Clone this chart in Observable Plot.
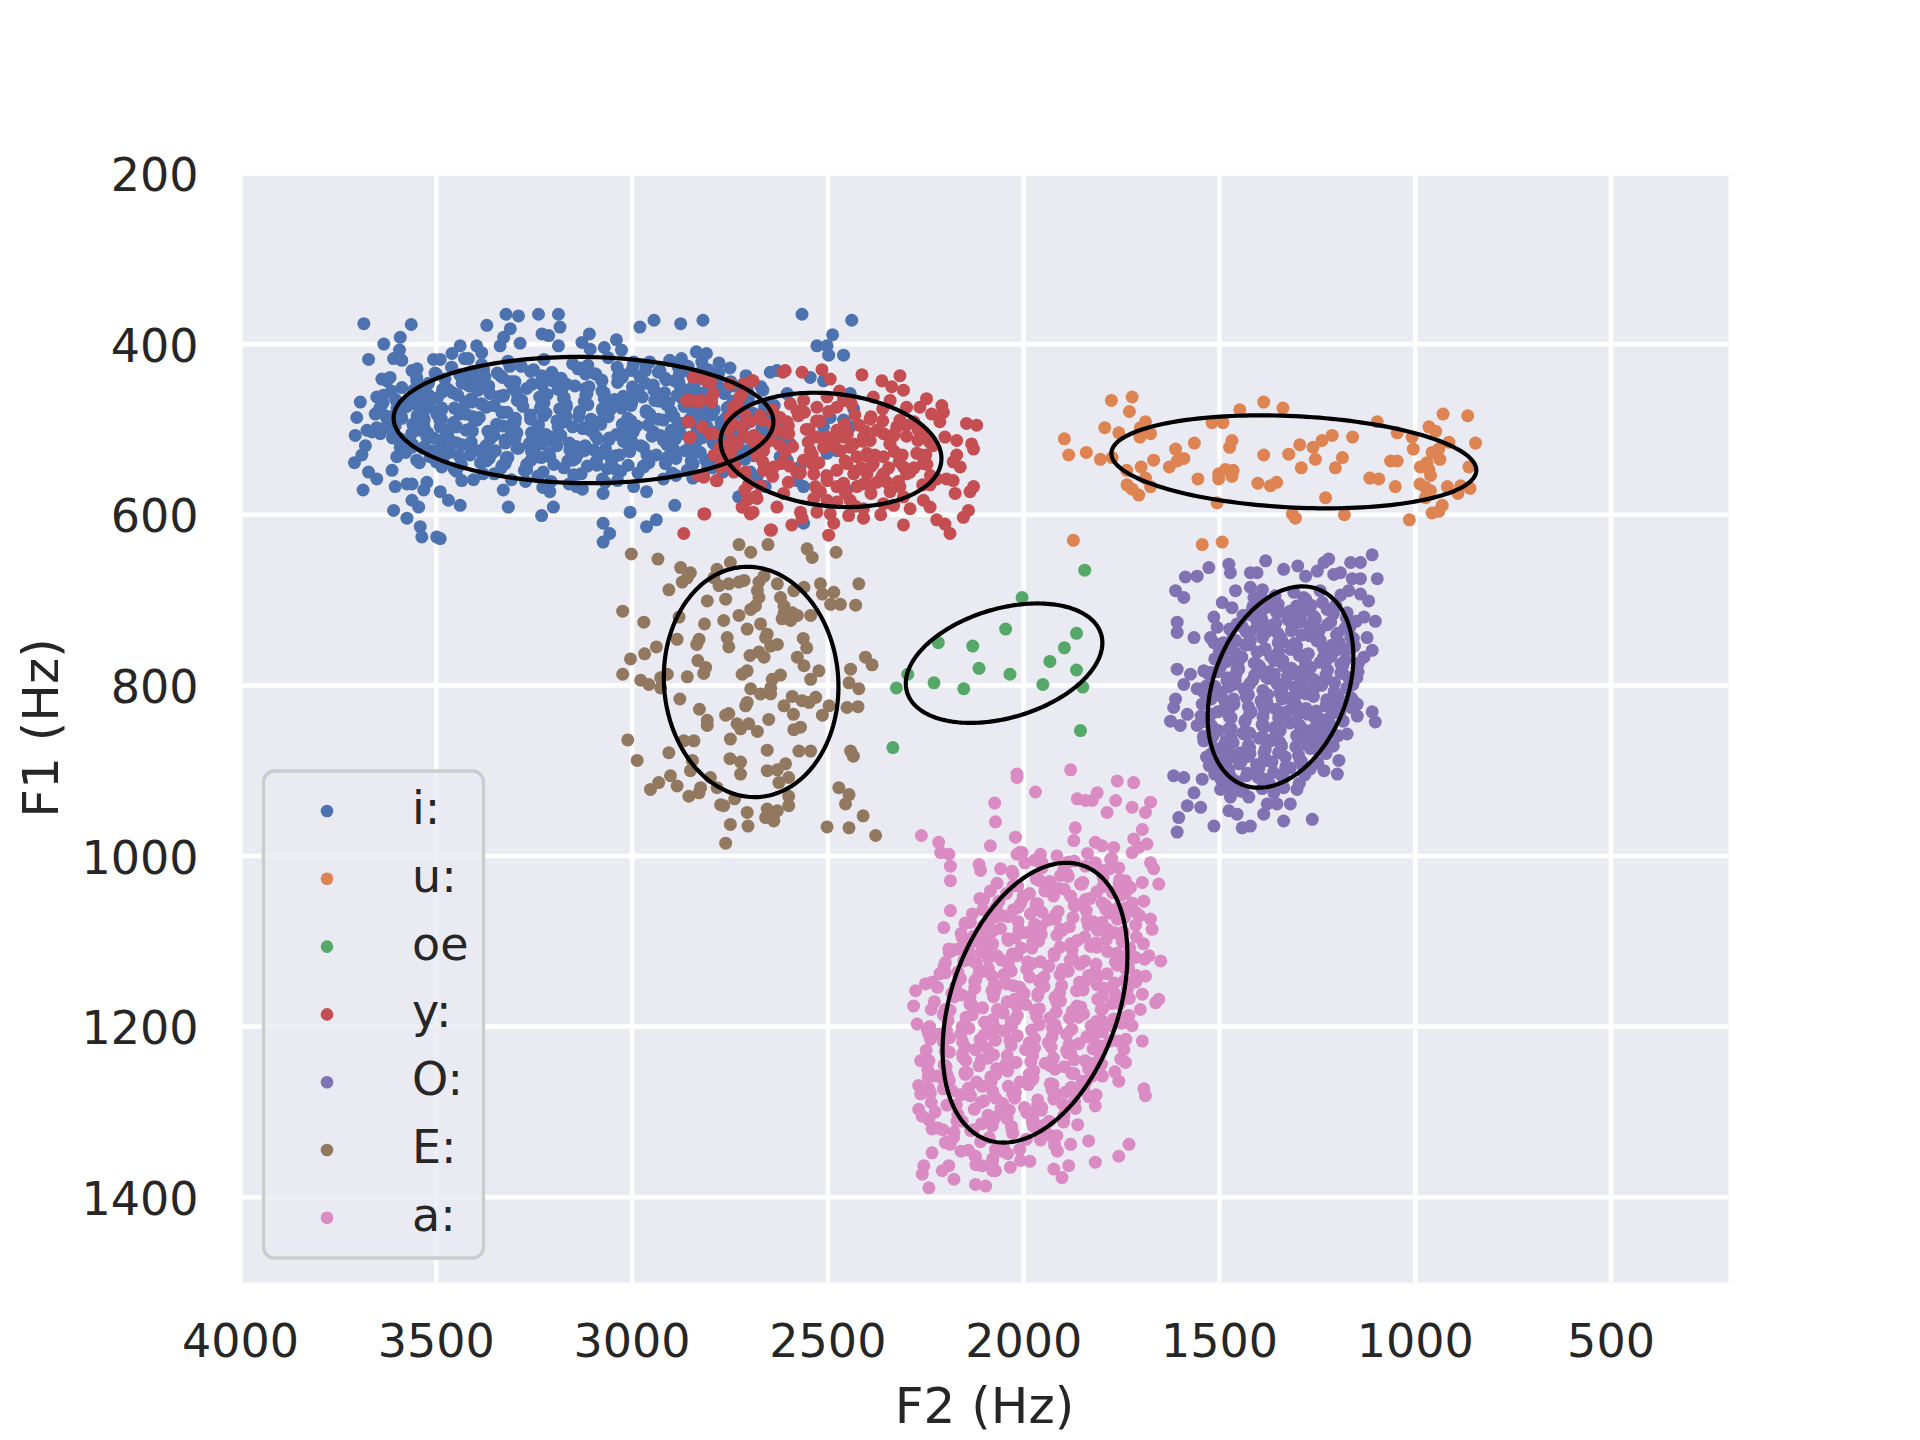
<!DOCTYPE html>
<html><head><meta charset="utf-8">
<script src="https://cdn.jsdelivr.net/npm/d3@7"></script>
<script src="https://cdn.jsdelivr.net/npm/@observablehq/plot@0.6"></script>
<style>body{margin:0;background:#fff}#chart{width:1920px;height:1440px}</style>
</head><body><div id="chart"></div>
<script>
const vowels = ["i:","u:","oe","y:","O:","E:","a:"];
const colors = ["#4c72b0","#dd8452","#55a868","#c44e52","#8172b3","#937860","#da8bc3"];
const xTicks = [4000,3500,3000,2500,2000,1500,1000,500];
const yTicks = [200,400,600,800,1000,1200,1400];

// [F2, F1] pairs
const pts_i = [
[3685,376],[3564,377],[3592,392],[3634,400],[3673,418],[3371,378],[3322,365],[3290,367],[3239,365],[3188,365],[3184,380],[3230,388],[3213,390],[3311,382],[3328,392],[3337,402],[3286,399],[3188,402],[3109,388],[3128,398],[3107,406],[3040,395],[3071,404],[3027,407],[2980,380],[2944,372],[2876,376],[2819,372],[2836,409],[2810,411],[2778,422],[2874,417],[2997,425],[2955,421],[2929,431],[3439,402],[3397,402],[3384,410],[3418,417],[3460,411],[3507,418],[3490,418],[3609,417],[3594,407],[3588,419],[3562,431],[3549,429],
[2566,365],[2439,372],[2488,389],[2528,402],[2502,402],[2498,413],[2460,413],
[3694,468],[3703,486],[3656,482],[3707,507],[3677,501],[3681,519],[3690,530],[3709,539],[3673,550],[3652,558],[3687,571],[3613,548],[3605,567],[3609,595],[3575,604],[3541,614],[3537,626],[3499,626],[3490,628],[3545,591],[3562,583],[3575,564],[3562,564],[3532,571],[3524,562],[3490,573],[3469,583],[3439,589],[3435,560],[3329,571],[3316,591],[3231,601],[3201,591],[3210,573],[3142,567],[3074,575],[3074,610],[3057,622],[3074,632],[3005,597],[2963,614],[2938,606],[2963,573],[2891,589],[2844,540],[2793,534],
[3639,441],[3626,443],[3618,439],[3652,462],[3635,460],[3643,474],[3626,487],[3609,484],[3664,503],[3643,505],[3626,497],[3605,509],[3592,521],[3601,532],[3562,521],[3550,439],[3558,454],[3533,466],[3516,474],[3499,482],[3533,486],[3541,501],[3524,509],[3507,525],[3490,536],[3516,532],[3550,536],[3490,497],[3464,513],[3490,513],
[2647,433],[2630,431],[2604,458],[2545,439],[2511,443],[2443,458],[2434,476],[2443,497],[2460,489],[2477,525],[2502,528],[2622,532],[2604,536],[2571,544],[2562,567],[2579,560],[2698,550],[2681,556],[2660,567],[2728,579],[2622,513],[2596,517],[2452,571],[2562,610],[2494,486],[2511,497],
[3428,417],[3384,424],[3317,420],[3283,426],[3225,418],[3152,423],[3113,425],[3061,416],[2996,421],[2964,424],[2904,419],[2857,426],[2822,421],
[3500,435],[3461,427],[3409,432],[3344,434],[3312,426],[3252,430],[3205,433],[3134,428],[3093,435],[3038,427],[3001,431],[2933,433],[2883,426],[2821,431],[2779,434],[2750,428],
[3550,443],[3503,434],[3432,439],[3391,442],[3336,437],[3299,444],[3231,437],[3181,440],[3119,435],[3077,443],[3024,436],[2980,438],[2913,442],[2879,435],[2821,440],[2748,444],[2709,437],
[3588,451],[3520,446],[3470,453],[3408,446],[3366,449],[3313,444],[3269,452],[3202,443],[3168,447],[3110,450],[3037,445],[2998,451],[2946,448],[2881,444],[2849,452],[2789,446],[2742,449],[2671,450],
[3615,455],[3557,458],[3484,453],[3445,460],[3393,454],[3328,460],[3296,456],[3236,462],[3189,453],[3118,460],[3077,455],[3022,461],[2985,454],[2917,457],[2867,459],[2805,452],[2763,457],[2710,460],[2666,454],
[3636,469],[3604,465],[3544,471],[3497,463],[3426,468],[3385,470],[3330,461],[3293,466],[3225,469],[3175,464],[3113,471],[3071,464],[3018,467],[2974,462],[2907,469],[2873,463],[2815,470],[2742,467],[2703,464],[2651,470],
[3646,477],[3591,479],[3554,470],[3486,475],[3436,478],[3374,473],[3332,480],[3279,473],[3235,476],[3168,471],[3134,479],[3076,476],[3003,472],[2964,478],[2912,471],[2847,477],[2815,480],[2755,474],[2708,479],[2637,472],
[3630,484],[3588,487],[3535,482],[3491,489],[3424,482],[3390,486],[3332,480],[3259,488],[3220,481],[3168,485],[3103,489],[3071,483],[3011,487],[2964,480],[2893,485],[2852,488],[2797,483],[2760,486],[2692,481],[2642,487],
[3652,498],[3618,491],[3560,494],[3487,488],[3448,497],[3396,489],[3331,496],[3299,492],[3239,495],[3192,490],[3121,498],[3080,491],[3025,494],[2988,496],[2920,489],[2870,493],[2808,497],[2766,490],[2713,495],[2669,492],[2625,498],
[3628,498],[3563,505],[3531,498],[3471,505],[3424,501],[3353,507],[3312,499],[3257,504],[3220,506],[3152,497],[3102,502],[3040,506],[2998,500],[2945,503],[2901,505],[2834,499],[2800,503],[2742,507],[2669,500],[2630,505],
[3612,510],[3571,516],[3516,508],[3479,513],[3411,515],[3361,507],[3299,511],[3257,514],[3204,509],[3160,516],[3093,508],[3059,512],[3001,514],[2928,507],[2889,511],[2837,515],[2772,509],[2740,513],[2680,516],[2633,508],
[3592,515],[3530,520],[3488,523],[3435,518],[3391,525],[3324,516],[3290,522],[3232,517],[3159,524],[3120,519],[3068,523],[3003,515],[2971,521],[2911,518],[2864,525],[2793,516],[2752,520],[2697,523],[2660,517],
[3578,527],[3505,534],[3466,527],[3414,530],[3349,525],[3317,533],[3257,526],[3210,532],[3139,529],[3098,524],[3043,531],[3006,526],[2938,530],[2888,534],[2826,527],[2784,532],[2731,525],[2687,531],
[3543,539],[3483,534],[3436,541],[3365,534],[3324,540],[3269,541],[3232,533],[3164,537],[3114,543],[3052,536],[3010,542],[2957,535],[2913,538],[2846,541],[2812,536],[2754,540],[2712,535],
[3486,544],[3449,549],[3381,552],[3331,542],[3269,547],[3227,550],[3174,545],[3130,552],[3063,546],[3029,549],[2971,543],[2898,551],[2859,548],[2807,544],[2768,550],
[3405,559],[3352,552],[3308,559],[3241,555],[3207,561],[3149,553],[3076,558],[3037,560],[2985,551],[2920,558],[2888,554],[2845,557],
[3272,561],[3228,568],[3161,564],[3127,570],[3069,562],[2996,567]
];
const pts_i_inner = [
[3440,436],[3379,430],[3331,439],[3259,432],[3204,437],[3138,429],[3094,435],[3036,438],[2966,431],[2915,440],[2852,433],[2806,430],
[3478,441],[3434,446],[3376,438],[3306,444],[3255,447],[3192,440],[3146,449],[3078,442],[3025,439],[2966,446],[2891,443],[2842,448],[2781,440],
[3530,453],[3484,456],[3416,449],[3363,458],[3304,451],[3229,448],[3180,455],[3119,452],[3071,457],[2999,450],[2944,454],[2878,449],[2834,456],[2776,451],[2706,454],
[3568,467],[3519,460],[3458,457],[3410,464],[3338,461],[3283,466],[3217,459],[3173,463],[3115,458],[3045,465],[2994,462],[2931,467],[2885,460],[2817,463],[2764,458],[2705,466],
[3575,473],[3520,470],[3454,475],[3410,468],[3352,472],[3282,466],[3231,471],[3168,474],[3122,467],[3054,476],[3001,469],[2942,466],[2867,473],[2818,472],[2757,475],[2709,468],[2661,471],
[3600,475],[3549,484],[3486,477],[3440,482],[3372,474],[3319,480],[3260,483],[3185,476],[3136,485],[3075,478],[3027,475],[2955,482],[2900,479],[2834,484],[2790,477],[2732,481],[2662,476],
[3590,483],[3531,489],[3456,492],[3407,485],[3346,494],[3298,487],[3226,484],[3171,491],[3105,488],[3061,485],[3003,490],[2933,488],[2882,493],[2819,486],[2773,491],[2705,484],[2652,489],
[3605,496],[3533,493],[3478,500],[3412,499],[3368,502],[3310,495],[3240,500],[3189,497],[3126,499],[3080,494],[3012,502],[2959,495],[2900,501],[2825,498],[2776,500],[2715,494],[2667,499],
[3592,511],[3522,504],[3471,508],[3408,502],[3362,511],[3294,504],[3241,509],[3182,507],[3107,501],[3058,510],[2997,503],[2949,508],[2877,505],[2822,510],[2756,504],[2712,509],[2654,502],
[3560,518],[3507,510],[3448,516],[3373,519],[3324,512],[3263,517],[3215,513],[3143,520],[3088,511],[3022,514],[2978,519],[2920,513],[2850,516],[2799,510],[2736,517],[2690,515],
[3535,522],[3487,526],[3415,520],[3360,529],[3294,522],[3250,527],[3192,519],[3122,525],[3071,528],[3008,521],[2962,530],[2894,523],[2841,520],[2782,527],[2720,524],
[3500,538],[3442,531],[3372,537],[3321,533],[3258,536],[3212,528],[3144,534],[3091,537],[3032,530],[2957,539],[2908,532],[2847,529],[2799,536],[2742,533],
[3455,546],[3387,539],[3334,545],[3275,548],[3200,541],[3151,536],[3090,542],[3042,547],[2970,544],[2915,540],[2849,537],[2795,545]
];
const pts_u = [
[1776,466],[1723,462],[1730,479],[1689,491],[1702,498],[1793,498],[1757,504],[1676,505],[1703,509],[1896,511],[1885,530],[1840,527],[1804,535],[1774,533],[1737,548],[1700,544],[1668,536],[1689,557],[1676,567],[1736,565],[1723,570],[1706,577],[1612,523],[1564,516],[1591,534],[1608,537],[1628,544],[1555,558],[1519,492],[1491,492],[1448,477],[1387,468],[1338,475],[1468,513],[1474,521],[1485,547],[1465,548],[1502,552],[1468,555],[1502,558],[1387,530],[1402,563],[1370,566],[1354,562],[1506,586],[1323,529],[1295,518],[1261,521],[1238,513],[1212,507],[1255,535],[1291,545],[1186,533],[1204,545],[1160,509],[1229,580],[1314,599],[1306,604],[1181,600],[1097,491],[1046,504],[1063,537],[1046,537],[1116,557],[1093,558],[1051,567],[1008,509],[1005,523],[965,497],[948,502],[929,482],[866,484],[846,516],[914,515],[940,523],[957,527],[987,544],[970,539],[965,547],[961,554],[988,564],[974,568],[961,572],[974,580],[918,567],[884,566],[860,569],[891,575],[863,544],[931,589],[957,598],[940,596],[1015,606],[937,535],
[1873,630],[1544,635],[1493,632]
];
const pts_oe = [
[1844,665],[2004,697],[2046,734],[2130,754],[2218,750],[1865,739],[1896,756],[1933,772],[2114,780],[2035,787],[1865,782],[2296,787],[2325,803],[2229,797],[2153,804],[1951,799],[1849,802],[1855,853],[2334,873]
];
const pts_y = [
[2609,431],[2566,433],[2515,430],[2494,441],[2413,436],[2362,443],[2316,437],[2337,450],[2307,454],[2384,462],[2341,466],[2265,474],[2248,464],[2209,472],[2205,480],[2235,482],[2214,491],[2146,493],[2120,495],[2299,474],[2316,489],[2324,497],[2375,501],[2299,508],[2256,509],[2201,509],[2171,513],[2133,517],[2128,523],[2171,530],[2180,538],[2162,544],[2197,558],[2180,560],[2222,558],[2239,565],[2273,528],[2256,540],[2307,544],[2299,552],[2358,552],[2375,562],[2349,562],[2341,573],[2316,567],[2307,579],[2332,589],[2358,587],[2409,564],[2426,567],[2400,552],[2384,540],[2358,532],[2341,517],[2358,505],[2392,513],[2400,528],[2426,532],[2443,521],[2460,509],[2477,501],[2502,509],[2528,509],[2511,521],[2545,525],[2562,536],[2536,552],[2502,560],[2477,548],[2451,540],[2434,552],[2477,567],[2519,573],[2536,581],[2502,583],[2477,585],[2443,583],[2409,593],[2447,601],[2409,604],[2494,599],[2485,610],[2498,624],[2528,597],[2570,597],[2566,604],[2592,612],[2613,575],[2630,591],[2647,618],[2698,599],[2719,591],[2685,579],[2702,564],[2664,548],[2638,544],[2664,525],[2647,513],[2630,501],[2604,491],[2579,478],[2562,466],[2528,474],[2502,462],[2477,474],[2460,466],[2596,470],[2622,486],[2673,484],[2668,489],[2698,491],[2719,497],[2715,507],[2694,513],[2673,513],[2745,513],[2732,517],[2766,521],[2791,530],[2800,505],[2851,509],[2855,491],[2821,497],[2851,466],[2825,466],[2796,462],[2800,445],[2817,441],[2749,447],[2694,443],[2719,458],[2732,470],[2749,540],[2774,544],[2817,556],[2783,560],[2740,550],[2706,583],[2681,581],[2817,599],[2868,622],[2290,593],[2307,612],[2222,606],[2201,611],[2188,622],[2154,603],[2141,595],[2137,573],[2128,567],[2175,575],[2239,591],[2256,583],[2434,517],[2409,509],
[2844,439],[2810,443],[2861,466],[2831,468],[2797,468],[2793,458],[2857,491],[2854,510],[2831,554],[2785,560],[2814,599],[2717,447],[2691,443],[2725,462],[2742,474],[2751,486],[2793,505],[2776,521],[2768,532],[2742,548],[2712,571],[2683,579],[2691,597],[2717,591],[2644,618],[2615,433],
[2590,520],[2555,500],[2520,490],[2485,515],[2450,505],[2420,495],[2390,485],[2360,490],[2330,505],[2300,495],[2270,500],[2240,515],[2380,530],[2345,545],[2310,530],[2280,545],[2250,530],[2620,540],[2580,550],[2540,540],[2600,505],[2640,495],[2470,455],[2440,470],[2560,480],[2415,545],[2455,575],[2390,575],[2430,590],[2365,600]
];
const pts_y_inner = [
[2712,482],[2641,477],[2575,484],[2498,479],[2431,483],[2360,476],
[2740,494],[2668,489],[2601,496],[2529,490],[2458,494],[2392,488],[2318,495],[2280,491],
[2755,501],[2689,507],[2612,503],[2548,500],[2473,506],[2405,502],[2333,508],[2265,503],
[2760,519],[2690,513],[2624,518],[2550,515],[2483,520],[2411,514],[2342,517],[2270,513],[2232,519],
[2748,526],[2681,531],[2609,527],[2540,530],[2468,525],[2402,531],[2330,526],[2262,530],
[2738,542],[2666,538],[2598,543],[2523,539],[2456,537],[2389,543],[2318,538],[2247,541],
[2710,550],[2641,555],[2570,551],[2503,554],[2430,549],[2362,555],[2290,550],[2238,554],
[2672,566],[2601,562],[2532,567],[2460,563],[2391,566],[2320,561],[2258,565]
];
const pts_O = [
[1612,689],[1591,697],[1587,673],[1557,672],[1527,662],[1476,658],[1472,668],[1421,668],[1404,668],[1382,654],[1336,664],[1300,660],[1280,672],[1250,666],[1233,656],[1221,652],[1208,670],[1191,668],[1165,656],[1140,656],[1110,647],[1161,675],[1140,675],[1097,675],[1170,689],[1140,693],[1119,701],[1131,720],[1102,725],[1123,744],[1110,759],[1131,767],[1493,703],[1459,689],[1421,685],[1412,697],[1382,709],[1468,709],[1514,720],[1506,732],[1608,726],[1608,738],[1565,744],[1523,744],[1514,750],[1459,748],[1421,748],[1608,781],[1574,787],[1540,783],[1591,799],[1557,804],[1480,791],[1612,816],[1617,826],[1582,834],[1625,842],[1600,847],[1557,847],[1540,865],[1523,881],[1480,885],[1446,879],[1617,906],[1591,908],[1544,910],[1565,926],[1582,941],[1548,943],[1604,955],[1608,972],[1514,965],[1497,922],[1472,931],[1446,924],[1425,931],[1476,947],[1455,951],[1442,967],[1421,965],[1387,951],[1378,939],[1353,939],[1336,959],[1319,939],[1302,922],[1263,957],[1336,920],[1268,898],[1233,900],[1195,888],[1199,904],[1221,873],[1174,857],[1148,836],[1110,831],[1102,843],[1165,814],[1148,822],
[1390,688],[1358,695],[1310,691],[1285,697],[1243,689],[1190,694],
[1415,708],[1387,700],[1350,705],[1303,707],[1280,699],[1237,703],[1203,706],
[1440,718],[1406,709],[1355,714],[1325,717],[1285,712],[1259,719],[1210,712],[1174,715],
[1455,728],[1406,723],[1370,730],[1325,723],[1294,726],[1256,721],[1224,729],[1176,721],[1151,725],
[1474,734],[1432,737],[1379,732],[1351,739],[1314,733],[1267,739],[1244,735],[1201,741],[1167,732],
[1490,750],[1467,746],[1424,752],[1390,744],[1339,749],[1309,751],[1269,742],[1243,747],[1194,750],[1158,745],
[1500,760],[1460,762],[1434,753],[1385,758],[1349,761],[1304,756],[1273,763],[1235,756],[1203,759],[1155,754],
[1512,769],[1481,772],[1443,767],[1411,774],[1363,767],[1338,771],[1296,765],[1243,773],[1215,766],[1178,770],[1145,774],
[1522,785],[1497,778],[1455,781],[1402,776],[1374,784],[1337,777],[1290,783],[1267,779],[1224,782],[1190,775],[1146,784],
[1528,787],[1481,794],[1458,787],[1415,794],[1381,790],[1330,796],[1300,788],[1260,793],[1234,795],[1185,786],[1149,791],
[1534,801],[1504,807],[1464,799],[1438,804],[1389,806],[1353,798],[1308,802],[1277,805],[1239,800],[1207,807],[1159,799],
[1540,808],[1495,813],[1464,816],[1426,811],[1394,818],[1346,809],[1321,815],[1279,810],[1226,817],[1198,812],[1161,816],
[1544,822],[1491,829],[1463,822],[1426,825],[1379,820],[1356,828],[1313,821],[1279,827],[1228,824],[1198,819],[1164,826],
[1547,836],[1504,831],[1470,838],[1419,831],[1389,837],[1349,838],[1323,830],[1274,834],[1238,840],[1193,833],
[1545,843],[1519,848],[1470,851],[1434,841],[1389,846],[1358,849],[1320,844],[1288,851],[1240,845],[1215,848],[1184,842],
[1541,860],[1503,853],[1471,860],[1423,856],[1398,862],[1356,854],[1303,859],[1275,861],[1238,852],[1197,859],
[1538,864],[1490,871],[1465,867],[1423,873],[1370,865],[1342,870],[1305,872],[1258,863],[1235,868],[1209,871],
[1533,884],[1496,876],[1449,881],[1426,883],[1383,875],[1349,879],[1298,882],[1268,874],[1228,880],
[1526,894],[1475,885],[1445,890],[1405,893],[1379,888],[1330,895],[1294,888],[1249,891],
[1512,904],[1476,899],[1431,906],[1400,898],[1362,902],[1330,897],[1282,905],
[1496,910],[1454,913],[1401,908],[1373,915],[1336,909],[1296,915],
[1474,919],[1440,924],[1391,921],[1361,926]
];
const pts_O_inner = [
[1400,710],[1356,704],[1320,713],[1266,706],[1225,711],
[1425,717],[1392,722],[1345,714],[1293,720],[1255,723],[1209,716],
[1442,731],[1407,734],[1356,727],[1316,736],[1272,729],[1216,726],[1179,733],
[1460,747],[1423,740],[1379,737],[1343,744],[1289,741],[1248,746],[1198,739],[1165,743],
[1474,755],[1433,752],[1383,757],[1350,750],[1303,754],[1251,748],[1213,753],[1167,756],
[1488,759],[1450,768],[1404,761],[1369,766],[1318,758],[1278,764],[1234,767],[1178,760],
[1497,769],[1453,775],[1397,778],[1360,771],[1316,780],[1280,773],[1226,770],[1185,777],
[1505,784],[1451,781],[1410,788],[1360,787],[1327,790],[1280,783],[1228,788],[1190,785],
[1512,801],[1460,794],[1422,798],[1376,792],[1341,801],[1290,794],[1250,799],[1206,797],[1170,791],
[1517,810],[1477,802],[1433,808],[1377,811],[1340,804],[1296,809],[1260,805],[1206,812],[1175,803],
[1521,816],[1485,820],[1431,814],[1390,823],[1340,816],[1307,821],[1260,813],[1208,819],[1182,822],
[1522,834],[1475,827],[1423,833],[1385,829],[1339,832],[1304,824],[1253,830],[1213,833],
[1526,844],[1475,837],[1435,843],[1391,846],[1335,839],[1298,834],[1254,840],[1218,845],
[1520,854],[1476,851],[1440,856],[1386,849],[1345,853],[1295,847],[1262,852],[1215,855],
[1517,860],[1484,865],[1437,857],[1385,863],[1347,866],[1301,859],[1266,868],[1228,861],
[1512,874],[1477,877],[1426,870],[1386,879],[1342,872],[1286,869],[1249,876],
[1503,890],[1466,883],[1422,880],[1386,887],[1332,884],[1291,889],
[1490,898],[1449,892],[1399,896],[1366,890],[1319,897],[1287,894],
[1470,908],[1428,903],[1385,910],[1342,905]
];
const pts_E = [
[3002,646],[2934,652],[2727,635],[2697,644],[2653,635],[2553,640],[2540,650],[2479,644],[2876,662],[2851,668],[2859,674],[2872,679],[2906,688],[2783,664],[2749,656],[2791,674],[2778,683],[2761,699],[2808,701],[2753,681],[2727,679],[2714,677],[2676,679],[2663,672],[2680,689],[2676,697],[2629,681],[2621,697],[2612,707],[2591,715],[2612,715],[2578,718],[2617,722],[2595,724],[2587,689],[2561,685],[2519,681],[2514,693],[2485,691],[2468,705],[2493,705],[2421,681],[2429,706],[2544,718],[2697,711],[2685,707],[2727,718],[2766,724],[2815,728],[2880,720],[2970,726],[3024,713],[2706,734],[2672,728],[2655,740],[2659,744],[2629,752],[2646,754],[2757,744],[2753,755],[2829,746],[2835,752],[2885,746],[2938,755],[2968,763],[3004,769],[3024,787],[2978,794],[2957,799],[2927,791],[2910,787],[2927,803],[2859,790],[2832,771],[2812,779],[2817,786],[2719,787],[2706,783],[2699,765],[2676,761],[2663,767],[2621,788],[2642,793],[2646,803],[2672,810],[2697,804],[2706,820],[2710,824],[2646,810],[2578,767],[2561,777],[2563,745],[2554,756],[2523,783],[2544,793],[2591,813],[2566,818],[2548,820],[2531,814],[2612,824],[2588,834],[2497,824],[2514,835],[2442,781],[2446,797],[2421,804],[2451,826],[2423,825],[2404,767],[2387,776],[2878,816],[2828,828],[2808,841],[2808,847],[2761,835],[2753,833],[2732,845],[2723,851],[2702,845],[2680,854],[2651,840],[2749,863],[2655,876],[2750,886],[2723,890],[2723,904],[2655,900],[2629,899],[2608,892],[2625,914],[2600,908],[2574,877],[2544,877],[2587,852],[2570,849],[2442,877],[2435,883],[3011,864],[2987,888],[2906,879],[2868,865],[2842,865],[2846,888],[2851,900],[2902,906],[2885,918],[2932,914],[2953,922],[2855,930],[2829,926],[2825,920],[2800,908],[2774,940],[2766,941],[2738,933],[2706,949],[2749,963],[2704,965],[2655,945],[2659,955],[2638,951],[2629,947],[2638,959],[2600,930],[2600,941],[2472,920],[2446,928],[2455,939],[2410,953],[2502,966],[2446,967],[2378,976],[2761,985],[2783,920]
];
const pts_a = [
[2017,904],[2017,908],[1880,899],[1970,925],[2074,938],[2072,960],[2261,976],[2217,984],[2212,996],[2191,998],[2187,1012],[2187,1029],[2114,1010],[2110,1017],[2085,988],[2059,1015],[2021,978],[2017,998],[2004,996],[2029,1019],[1957,998],[1953,1008],[1863,933],[1842,935],[1825,935],[1812,926],[1761,912],[1719,914],[1765,935],[1787,949],[1723,943],[1676,937],[1689,949],[1868,967],[1872,982],[1817,984],[1800,988],[1770,990],[1719,980],[1706,990],[1723,996],[1697,969],[1685,986],[1778,1004],[1817,1008],[1800,1017],[1842,1012],[1906,1023],[1889,1021],[1757,1014],[1740,1029],[1676,1008],[1668,1015],[1655,1033],[1697,1031],[1693,1053],[1723,1055],[1740,1043],[1714,1066],[1676,1074],[1672,1086],[1791,1062],[1761,1074],[1748,1101],[1714,1119],[1680,1117],[1650,1123],[1689,1141],[1714,1148],[1697,1162],[1663,1172],[1702,1180],[1655,1168],[1731,1187],[1740,1195],[1723,1199],[1697,1217],[1744,1227],[1740,1242],[1757,1264],[1693,1273],[1689,1281],[1817,1293],[1834,1334],[1880,1338],[1817,1359],[1757,1352],[1731,1338],[1914,1346],[1923,1367],[1885,1363],[1902,1377],[1931,1328],[1978,1312],[2008,1357],[2072,1344],[2055,1346],[2080,1359],[2072,1369],[2106,1363],[2123,1352],[2123,1385],[2097,1387],[2191,1363],[2208,1369],[2178,1379],[2242,1389],[2255,1363],[2259,1373],[2234,1348],[2200,1336],[2178,1324],[2234,1320],[2242,1309],[2259,1305],[2268,1297],[2263,1279],[2268,1269],[2242,1273],[2234,1258],[2263,1240],[2242,1240],[2221,1258],[2272,1197],[2281,1176],[2276,1158],[2251,1150],[2234,1148],[2242,1209],[2238,1215],[2217,1209],[2200,1180],[2178,1164],[2200,1137],[2200,1125],[2191,1109],[2166,1109],[2157,1096],[2204,1084],[2187,1064],[2136,1078],[2114,1101],[2140,1113],[2089,1098],[2068,1117],[2102,1051],[2085,1074],[2114,1137],[2068,1152],[2012,1086],[2008,1056],[1970,1062],
[2010,996],[1972,1005],[1915,1000],[1886,1007],[1837,997],[1775,1003],
[2030,1018],[1997,1008],[1953,1014],[1898,1017],[1871,1006],[1820,1012],[1780,1015],
[2068,1032],[2028,1021],[1968,1027],[1933,1030],[1886,1024],[1855,1033],[1797,1025],[1755,1028],
[2085,1041],[2027,1035],[1985,1044],[1932,1036],[1896,1039],[1851,1033],[1813,1042],[1756,1033],[1727,1037],
[2112,1050],[2063,1053],[2001,1047],[1968,1056],[1924,1047],[1869,1056],[1842,1051],[1791,1058],[1751,1046],
[2131,1068],[2104,1063],[2053,1070],[2013,1060],[1953,1066],[1918,1069],[1871,1058],[1840,1064],[1782,1067],[1740,1061],[1704,1070],
[2150,1079],[2103,1082],[2072,1071],[2014,1077],[1972,1080],[1919,1074],[1883,1083],[1838,1075],[1800,1078],[1743,1072],[1714,1081],
[2160,1091],[2124,1094],[2079,1088],[2041,1097],[1984,1089],[1955,1092],[1906,1086],[1844,1095],[1811,1087],[1767,1090],[1712,1095],
[2179,1110],[2150,1102],[2101,1105],[2039,1099],[2006,1108],[1962,1100],[1907,1107],[1880,1103],[1829,1106],[1789,1098],[1729,1108],[1694,1103],
[2190,1113],[2135,1122],[2108,1113],[2057,1122],[2017,1117],[1957,1124],[1922,1114],[1875,1120],[1844,1123],[1786,1112],[1744,1118],[1691,1121],
[2203,1129],[2168,1136],[2121,1126],[2090,1132],[2032,1135],[1990,1124],[1937,1130],[1901,1133],[1856,1127],[1818,1136],[1761,1128],[1732,1131],
[2214,1138],[2161,1144],[2125,1147],[2080,1141],[2042,1150],[1985,1142],[1956,1145],[1907,1139],[1845,1148],[1812,1143],[1768,1149],[1713,1140],
[2220,1154],[2158,1163],[2125,1155],[2081,1158],[2026,1152],[1999,1161],[1948,1153],[1908,1160],[1848,1157],[1813,1151],[1766,1162],[1735,1156],
[2228,1171],[2177,1165],[2137,1174],[2077,1165],[2042,1171],[1995,1174],[1964,1164],[1906,1170],[1864,1176],[1811,1168],[1775,1173],[1730,1167],
[2236,1180],[2205,1186],[2147,1189],[2105,1178],[2052,1184],[2016,1187],[1971,1181],[1933,1190],[1876,1182],[1847,1185],[1798,1179],[1736,1188],
[2240,1200],[2195,1191],[2157,1200],[2100,1195],[2071,1202],[2022,1192],[1960,1198],[1927,1201],[1883,1190],[1828,1199],[1801,1193],[1750,1196],
[2246,1204],[2189,1213],[2160,1208],[2111,1215],[2049,1205],[2016,1211],[1972,1214],[1917,1203],[1890,1209],[1839,1212],[1799,1206],[1739,1215],
[2249,1228],[2205,1218],[2150,1224],[2123,1227],[2072,1216],[2032,1222],[1972,1225],[1937,1219],[1890,1228],[1859,1220],[1801,1223],[1759,1217],
[2250,1241],[2190,1230],[2155,1236],[2108,1239],[2077,1233],[2019,1242],[1977,1234],[1924,1237],[1888,1231],[1843,1240],[1805,1232],[1752,1238],
[2245,1251],[2203,1245],[2150,1254],[2114,1246],[2069,1249],[2031,1243],[1974,1252],[1945,1243],[1896,1247],[1834,1250],[1801,1244],[1767,1253],
[2244,1259],[2206,1262],[2149,1256],[2120,1265],[2071,1256],[2009,1265],[1976,1260],[1932,1267],[1877,1255],[1850,1264],[1799,1258],
[2238,1278],[2205,1273],[2161,1280],[2106,1270],[2079,1276],[2028,1279],[1988,1268],[1928,1274],[1893,1277],[1846,1271],[1815,1280],
[2236,1289],[2196,1292],[2136,1281],[2101,1287],[2054,1290],[2023,1284],[1965,1293],[1923,1285],[1870,1288],[1834,1282],
[2226,1300],[2168,1303],[2126,1297],[2073,1306],[2037,1298],[1992,1301],[1954,1295],[1897,1304],[1868,1296],
[2219,1319],[2170,1311],[2108,1314],[2075,1308],[2031,1317],[1976,1309],[1949,1316],[1898,1312],[1862,1315],
[2206,1321],[2179,1330],[2128,1321],[2088,1330],[2028,1325],[1993,1332],[1946,1322],[1915,1328],
[2188,1338],[2141,1345],[2110,1335],[2052,1341],[2010,1344],[1957,1333],[1921,1339],
[2160,1346],[2124,1352],[2079,1355],[2041,1349],[1984,1358],
[2122,1362],[2079,1369],[2034,1365]
];
const pts_a_inner = [
[2015,1035],[1958,1029],[1912,1038],[1849,1031],[1798,1036],
[2044,1044],[2001,1049],[1946,1041],[1880,1047],[1831,1050],[1773,1043],
[2070,1060],[2026,1063],[1964,1056],[1912,1065],[1865,1058],[1800,1055],[1762,1062],
[2090,1078],[2040,1071],[1983,1068],[1937,1075],[1874,1072],[1823,1077],[1763,1070],
[2110,1088],[2059,1085],[1999,1090],[1956,1083],[1901,1087],[1835,1081],[1786,1086],[1745,1089],
[2128,1094],[2079,1103],[2021,1096],[1977,1101],[1915,1093],[1863,1099],[1816,1102],[1751,1095],
[2141,1106],[2094,1112],[2029,1115],[1979,1108],[1922,1117],[1876,1110],[1813,1107],[1762,1114],
[2153,1123],[2090,1120],[2039,1127],[1979,1126],[1936,1129],[1881,1122],[1815,1127],[1766,1124],
[2165,1142],[2099,1135],[2050,1139],[1992,1133],[1948,1142],[1886,1135],[1834,1140],[1787,1138],[1740,1132],
[2174,1153],[2122,1145],[2075,1151],[2010,1154],[1960,1147],[1903,1152],[1857,1148],[1794,1155],[1743,1146],
[2183,1161],[2137,1165],[2074,1159],[2023,1168],[1963,1161],[1920,1166],[1865,1158],[1799,1164],[1750,1167],
[2188,1181],[2133,1174],[2067,1180],[2018,1176],[1960,1179],[1916,1171],[1854,1177],[1802,1180],[1755,1173],
[2193,1193],[2131,1186],[2079,1192],[2032,1195],[1967,1188],[1917,1183],[1860,1189],[1814,1194],[1770,1191],
[2197,1205],[2140,1202],[2094,1207],[2031,1200],[1980,1204],[1920,1198],[1877,1203],[1822,1206],[1775,1199],
[2199,1213],[2156,1218],[2101,1210],[2035,1216],[1986,1219],[1928,1212],[1884,1221],[1822,1214],[1780,1217],
[2200,1229],[2156,1232],[2094,1225],[2042,1234],[1995,1227],[1930,1224],[1880,1231],[1823,1226],
[2198,1247],[2148,1240],[2091,1237],[2045,1244],[1982,1241],[1931,1246],[1871,1239],[1820,1243],
[2195,1257],[2144,1254],[2084,1259],[2041,1252],[1986,1256],[1920,1250],[1871,1255],[1825,1258],
[2190,1263],[2141,1272],[2083,1265],[2039,1270],[1977,1262],[1925,1268],[1878,1271],[1840,1264],
[2183,1275],[2136,1281],[2071,1284],[2021,1277],[1964,1286],[1918,1279],[1868,1276],
[2172,1292],[2109,1289],[2058,1296],[1998,1295],[1955,1298],[1900,1291],
[2157,1311],[2091,1304],[2042,1308],[1984,1302],[1935,1311],
[2135,1322],[2080,1316],[2030,1320],[1975,1317]
];

// ellipse parameters: centre, half extents (Hz) and correlation
const ellVowel = ["i:","y:","u:","E:","oe","O:","a:"];
const ellCx   = [3124, 2492, 1310, 2696, 2050, 1344, 1971];
const ellCy   = [489, 524, 538, 796, 774, 802, 1172];
const ellSx   = [485, 282, 466, 223, 251, 186, 236];
const ellSy   = [74, 67, 54.5, 135, 70, 118, 164];
const ellRho  = [-0.03, -0.15, -0.18, -0.04, 0.34, 0.3, 0.34];

const series = [pts_i.concat(pts_i_inner), pts_u, pts_oe, pts_y.concat(pts_y_inner), pts_O.concat(pts_O_inner), pts_E, pts_a.concat(pts_a_inner)];
const dots = [];
series.forEach((arr, k) => arr.forEach(([f2, f1]) => dots.push({v: vowels[k], f2, f1})));

const ell = [];
ellVowel.forEach((v, k) => {
  const r = ellRho[k], q = Math.sqrt(1 - r * r);
  for (let j = 0; j <= 180; j++) {
    const t = j / 180 * 2 * Math.PI;
    ell.push({v, f2: ellCx[k] + ellSx[k] * Math.cos(t), f1: ellCy[k] + ellSy[k] * (r * Math.cos(t) + q * Math.sin(t))});
  }
});

const ink = "#262626";
const chart = Plot.plot({
  width: 1920, height: 1440,
  marginLeft: 240, marginRight: 192, marginTop: 173, marginBottom: 158,
  style: {fontFamily: "'DejaVu Sans', sans-serif", fontSize: "46px", color: ink, background: "#ffffff"},
  x: {domain: [4000, 200], axis: null},
  y: {domain: [1500, 200], axis: null},
  color: {domain: vowels, range: colors},
  marks: [
    Plot.frame({fill: "#eaeaf2", stroke: null}),
    Plot.gridX(xTicks, {stroke: "#ffffff", strokeOpacity: 1, strokeWidth: 4.6}),
    Plot.gridY(yTicks, {stroke: "#ffffff", strokeOpacity: 1, strokeWidth: 4.6}),
    Plot.dot(dots, {x: "f2", y: "f1", fill: "v", r: 6.5}),
    Plot.line(ell, {x: "f2", y: "f1", z: "v", stroke: "#000000", strokeWidth: 4.2}),
    Plot.axisX(xTicks, {tickSize: 0, tickPadding: 42, fontSize: 46, fill: ink, label: null, tickFormat: d => String(d)}),
    Plot.axisY(yTicks, {tickSize: 0, tickPadding: 42, fontSize: 46, fill: ink, label: null, tickFormat: d => String(d), dy: 3}),
    Plot.text(["F2 (Hz)"], {frameAnchor: "bottom", textAnchor: "middle", lineAnchor: "middle", dy: 124, fontSize: 50, fill: ink}),
    Plot.text(["F1 (Hz)"], {frameAnchor: "left", textAnchor: "middle", lineAnchor: "middle", dx: -199, rotate: -90, fontSize: 50, fill: ink})
  ]
});
document.getElementById("chart").appendChild(chart);

// legend (matplotlib lower-left box)
const svg = d3.select(chart);
const lg = svg.append("g").attr("text-anchor", "start");
lg.append("rect").attr("x", 263.5).attr("y", 771).attr("width", 220).attr("height", 487).attr("rx", 11)
  .attr("fill", "#eaeaf2").attr("fill-opacity", 0.8).attr("stroke", "#cccccc").attr("stroke-width", 3.4);
vowels.forEach((v, k) => {
  const cy = 811 + k * 67.8;
  lg.append("circle").attr("cx", 327).attr("cy", cy).attr("r", 6.3).attr("fill", colors[k]);
  lg.append("text").attr("x", 412).attr("y", cy + 13).attr("font-size", 46).attr("fill", ink)
    .attr("text-anchor", "start").attr("font-family", "'DejaVu Sans', sans-serif").text(v);
});
</script>
</body></html>
